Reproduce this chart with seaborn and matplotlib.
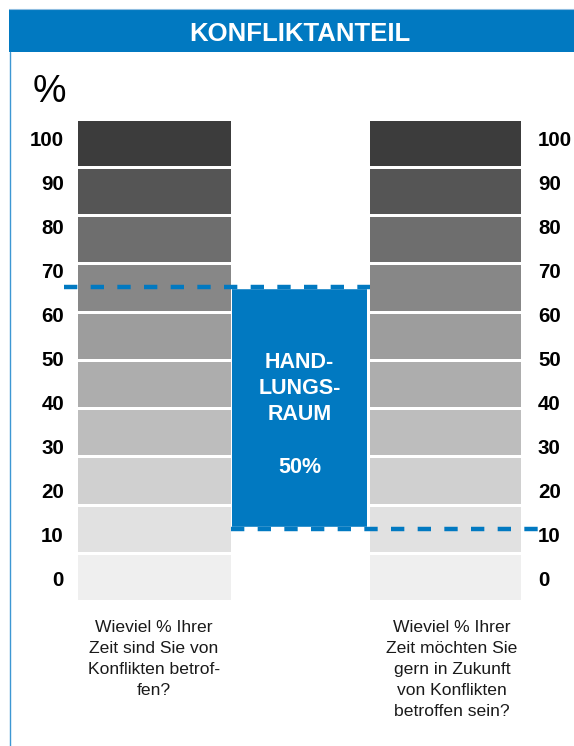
import matplotlib
matplotlib.use("Agg")
import matplotlib.pyplot as plt
from matplotlib.patches import Rectangle
from matplotlib.lines import Line2D
import seaborn as sns

# ---------------- data ----------------
title = "KONFLIKTANTEIL"
unit_label = "%"
segment_tops = [100, 90, 80, 70, 60, 50, 40, 30, 20, 10]          # stacked 10-% blocks
segment_colors = ["#3c3c3c", "#555555", "#6e6e6e", "#878787", "#9d9d9d",
                  "#adadad", "#bdbdbd", "#d0d0d0", "#e1e1e1", "#efefef"]
column_positions = [0, 2]
tick_labels = ["0", "10", "20", "30", "40", "50", "60", "70", "80", "90", "100"]
current_share = 65      # upper dashed line (left question)
desired_share = 15      # lower dashed line (right question)
space_text = "HAND-\nLUNGS-\nRAUM\n\n50%"
question_left = "Wieviel % Ihrer\nZeit sind Sie von\nKonflikten betrof-\nfen?"
question_right = "Wieviel % Ihrer\nZeit möchten Sie\ngern in Zukunft\nvon Konflikten\nbetroffen sein?"

BLUE = "#0179c1"

# ---------------- layout ----------------
W, H = 574, 746
sns.set_theme(style="white")
plt.rcParams["font.family"] = ["Liberation Sans", "DejaVu Sans"]

fig = plt.figure(figsize=(W / 100, H / 100), dpi=100)
fig.patch.set_facecolor("white")

def fx(px):
    return px / W

def fy(py):
    return 1 - py / H

# axes: x unit = 146 px (column centre 153.5 px), y: 0 -> 601 px, 100 -> 118.5 px
x_unit = 146.0
x_c0 = 153.5
ax_l, ax_r = 77, 521
ax_bot, ax_top = 601, 118.5
ax = fig.add_axes([fx(ax_l), fy(ax_bot), (ax_r - ax_l) / W, (ax_bot - ax_top) / H])
ax.set_facecolor("none")

edge_px = 3.0
col_w_data = (153 + edge_px) / x_unit
for top, col in zip(segment_tops, segment_colors):
    sns.barplot(x=column_positions, y=[top] * len(column_positions), native_scale=True,
                color=col, saturation=1, width=col_w_data / 2, edgecolor="white",
                linewidth=edge_px * 0.72, errorbar=None, ax=ax, zorder=2)

# Handlungsraum box
box_w = 135 / x_unit
ax.bar(1, current_share - desired_share, bottom=desired_share, width=box_w,
       color=BLUE, linewidth=0, zorder=3)

ax.set_xlim(-(x_c0 - ax_l) / x_unit, (ax_r - x_c0) / x_unit)
ax.set_ylim(0, 100)
y_scale = (ax_bot - ax_top) / 100.0

def xd(px):
    return (px - x_c0) / x_unit

# dashed lines (white underlay where they sit on the box edges)
lw = 3.2
for yv in (current_share, desired_share):
    ax.plot([1 - box_w / 2, 1 + box_w / 2], [yv, yv], color="white", lw=lw,
            solid_capstyle="butt", zorder=4, clip_on=False)
ax.plot([xd(64), xd(370)], [current_share, current_share], color=BLUE, lw=lw,
        linestyle=(0, (3.0, 3.0)), zorder=5, clip_on=False)
ax.plot([xd(231), xd(538)], [desired_share, desired_share], color=BLUE, lw=lw,
        linestyle=(0, (3.0, 3.0)), zorder=5, clip_on=False)

ax.text(1, (current_share + desired_share) / 2 - 1.4, space_text, color="white",
        fontsize=15.5, fontweight="bold", ha="center", va="center",
        linespacing=1.33, zorder=6)

# ticks (evenly spaced labels, 44 px apart)
tick_pos = [(ax_bot - (579 - 44 * i)) / y_scale for i in range(len(tick_labels))]
ax.set_xticks([])
ax.set_xlabel("")
ax.set_ylabel("")
ax.set_yticks(tick_pos, tick_labels)
ax.tick_params(axis="y", length=0, pad=13 * 0.72, labelsize=14.8, labelcolor="black")
for t in ax.get_yticklabels():
    t.set_fontweight("bold")
ax2 = ax.twinx()
ax2.set_ylim(0, 100)
ax2.set_yticks(tick_pos, tick_labels)
ax2.tick_params(axis="y", length=0, pad=17 * 0.72, labelsize=14.8, labelcolor="black")
for t in ax2.get_yticklabels():
    t.set_fontweight("bold")
for a in (ax, ax2):
    for s in a.spines.values():
        s.set_visible(False)
    a.grid(False)

# header
fig.patches.append(Rectangle((fx(9), fy(52)), fx(574) - fx(9), fy(9) - fy(52),
                             transform=fig.transFigure, facecolor=BLUE,
                             edgecolor="none", zorder=0))
fig.lines.append(Line2D([fx(9.5), fx(9.5)], [fy(52), fy(746)], transform=fig.transFigure,
                        color="#3d97d3", lw=1.0))
fig.lines.append(Line2D([fx(9), fx(574)], [fy(9), fy(9)], transform=fig.transFigure,
                        color="#8fbde0", lw=0.8))
fig.text(fx(299.5), fy(34), title, color="white", fontsize=18.5, fontweight="bold",
         ha="center", va="center")
fig.text(fx(49.5), fy(92), unit_label, color="black", fontsize=27,
         ha="center", va="center")

fig.text(fx(154), fy(620), question_left, fontsize=12.6, color="#1a1a1a",
         ha="center", va="top", linespacing=1.5)
fig.text(fx(452), fy(620), question_right, fontsize=12.6, color="#1a1a1a",
         ha="center", va="top", linespacing=1.5)

fig.savefig("out.png", dpi=100, facecolor="white")
